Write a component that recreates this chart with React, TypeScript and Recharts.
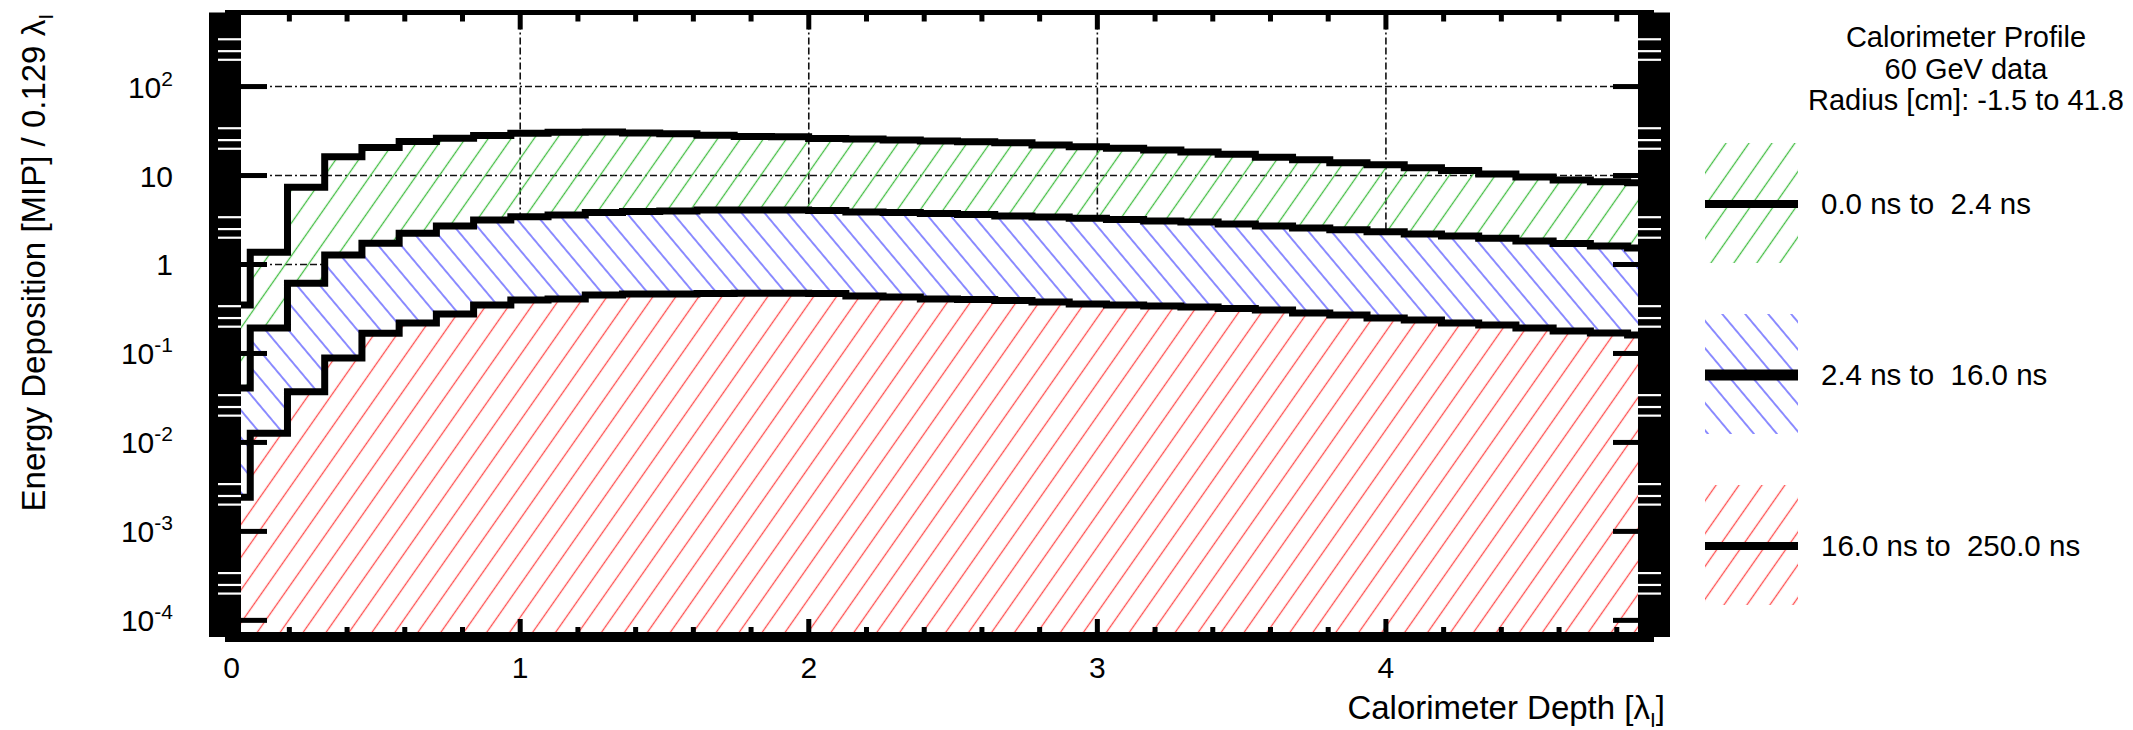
import React from 'react';
import { ComposedChart, Area, XAxis, YAxis, CartesianGrid, Legend, Label } from 'recharts';

// depth bins: 0.129 lambda_I wide, first bin centred on 0
const binWidth = 0.129;
const firstEdge = -0.0645;

// stacked energy profiles per bin as drawn (MIP), bins 0..38
const prompt = [
  0.35, 1.37, 7.4, 16.3, 20.6, 24.1, 26.3, 28.1, 29.9, 30.7,
  30.9, 30.1, 29.4, 28.3, 27.5, 27.2, 26.1, 25.8, 25.1, 24.5,
  23.9, 23.3, 22.1, 21.0, 20.2, 19.4, 18.4, 17.3, 16.0, 15.0,
  13.9, 13.2, 12.2, 11.4, 10.4, 9.6, 8.9, 8.5, 8.3,
];
const medium = [
  0.041, 0.193, 0.615, 1.28, 1.73, 2.25, 2.71, 3.16, 3.45, 3.6,
  3.83, 3.93, 4.0, 4.1, 4.1, 4.1, 4.05, 3.9, 3.83, 3.75,
  3.65, 3.51, 3.42, 3.31, 3.21, 3.08, 3.0, 2.86, 2.71, 2.58,
  2.45, 2.34, 2.2, 2.09, 1.97, 1.84, 1.72, 1.61, 1.53,
];
const late = [
  0.00242, 0.0127, 0.0371, 0.0887, 0.169, 0.22, 0.277, 0.35, 0.4, 0.41,
  0.454, 0.466, 0.466, 0.472, 0.474, 0.474, 0.472, 0.443, 0.431, 0.409,
  0.404, 0.394, 0.379, 0.36, 0.35, 0.341, 0.333, 0.32, 0.308, 0.285,
  0.27, 0.25, 0.238, 0.22, 0.209, 0.193, 0.179, 0.17, 0.161,
];

const legendLabels = ['0.0 ns to  2.4 ns', '2.4 ns to  16.0 ns', '16.0 ns to  250.0 ns'];
const headerLines = ['Calorimeter Profile', '60 GeV data', 'Radius [cm]: -1.5 to 41.8'];

const xMajorTicks = [0, 1, 2, 3, 4];
const yMajorTicks = [1e-4, 1e-3, 1e-2, 1e-1, 1, 10, 100];
const yGridTicks = [1, 10, 100];
const yNotchFactors = [2, 2.5, 3.4];

const xDomain = [-0.023, 4.929];
const yDomain = [6.5e-5, 680];

const W = 2133;
const H = 730;
const FONT = '"Liberation Sans", Arial, Helvetica, sans-serif';

// one row per bin low edge, plus a closing row at the last upper edge
const rows = prompt.map((_, i) => ({
  depth: firstEdge + i * binWidth,
  prompt: prompt[i],
  medium: medium[i],
  late: late[i],
}));
rows.push({
  depth: firstEdge + prompt.length * binWidth,
  prompt: prompt[prompt.length - 1],
  medium: medium[medium.length - 1],
  late: late[late.length - 1],
});

const xTicks: number[] = [];
for (let i = 0; i <= 24; i++) xTicks.push(Math.round(i * 2) / 10);

const yTicks: number[] = [];
yMajorTicks.forEach((d) => {
  yTicks.push(d);
  yNotchFactors.forEach((f) => {
    const v = d * f;
    if (v < yDomain[1]) yTicks.push(v);
  });
});

const isDecade = (v: number) => Math.abs(Math.log10(v) - Math.round(Math.log10(v))) < 1e-6;
const isInt = (v: number) => Math.abs(v - Math.round(v)) < 1e-6;

function LeftTick({ x, y, payload }: any) {
  const v = payload.value;
  if (!isDecade(v)) {
    return <line x1={x - 7} x2={x + 16} y1={y} y2={y} stroke="#fff" strokeWidth={2.2} />;
  }
  const e = Math.round(Math.log10(v));
  return (
    <g>
      <rect x={x + 14} y={y - 2.5} width={28} height={5} fill="#000" />
      <text x={x - 52} y={y + 11} textAnchor="end" fontSize={30} fontFamily={FONT} fill="#000">
        {e === 0 ? '1' : e === 1 ? '10' : (
          <>
            10<tspan fontSize={21} dy={-12}>{String(e)}</tspan>
          </>
        )}
      </text>
    </g>
  );
}

function RightTick({ x, y, payload }: any) {
  const v = payload.value;
  if (!isDecade(v)) {
    return <line x1={x - 16} x2={x + 7} y1={y} y2={y} stroke="#fff" strokeWidth={2.2} />;
  }
  return <rect x={x - 41} y={y - 2.5} width={27} height={5} fill="#000" />;
}

function BottomTick({ x, y, payload }: any) {
  const v = payload.value;
  const major = isInt(v);
  return (
    <g>
      <rect x={x - 2.5} y={major ? y - 18 : y - 10} width={5} height={major ? 14 : 6} fill="#000" />
      {major && (
        <text x={x} y={y + 41} textAnchor="middle" fontSize={30} fontFamily={FONT} fill="#000">
          {Math.round(v)}
        </text>
      )}
    </g>
  );
}

function TopTick({ x, y, payload }: any) {
  const major = isInt(payload.value);
  return <rect x={x - 2.5} y={y + 1} width={5} height={major ? 16 : 8} fill="#000" />;
}

function XTitle({ viewBox }: any) {
  const { x, y, width } = viewBox;
  return (
    <text x={x + width + 11} y={y + 82} textAnchor="end" fontSize={33} fontFamily={FONT} fill="#000">
      Calorimeter Depth [λ<tspan fontSize={21} dy={8}>I</tspan>
      <tspan dy={-8}>]</tspan>
    </text>
  );
}

function YTitle({ viewBox }: any) {
  const { x, y } = viewBox;
  return (
    <text
      transform={`translate(${x + 45},${y + 1.5}) rotate(-90)`}
      textAnchor="end"
      fontSize={33}
      fontFamily={FONT}
      fill="#000"
    >
      Energy Deposition [MIP] / 0.129 λ<tspan fontSize={21} dy={8}>I</tspan>
    </text>
  );
}

const hatchIds = ['hatchGreen', 'hatchBlue', 'hatchRed'];
const legendLineWidths = [8, 11, 8];

function LegendPanel() {
  return (
    <svg width={433} height={730} style={{ display: 'block' }}>
      {headerLines.map((t, i) => (
        <text key={t} x={266} y={47 + i * 31.5} textAnchor="middle" fontSize={29} fontFamily={FONT} fill="#000">
          {t}
        </text>
      ))}
      {legendLabels.map((t, i) => {
        const top = 143 + i * 171;
        const mid = top + 61;
        return (
          <g key={t}>
            <rect x={5} y={top} width={93} height={120} fill={`url(#${hatchIds[i]})`} />
            <line x1={5} x2={98} y1={mid} y2={mid} stroke="#000" strokeWidth={legendLineWidths[i]} />
            <text x={121} y={mid + 10} fontSize={29.5} fontFamily={FONT} fill="#000" xmlSpace="preserve" style={{ whiteSpace: 'pre' }}>
              {t}
            </text>
          </g>
        );
      })}
    </svg>
  );
}

export default function App() {
  return (
    <div style={{ position: 'fixed', left: 0, top: 0, width: W, height: H, background: '#fff' }}>
      <ComposedChart width={W} height={H} data={rows} margin={{ top: 0, right: 0, bottom: 0, left: 0 }}>
        <defs>
          <pattern id="hatchGreen" patternUnits="userSpaceOnUse" width={18.8} height={20} patternTransform="rotate(35)">
            <line x1={9.4} y1={0} x2={9.4} y2={20} stroke="#44be44" strokeWidth={1.3} />
          </pattern>
          <pattern id="hatchBlue" patternUnits="userSpaceOnUse" width={17.6} height={20} patternTransform="rotate(-40)">
            <rect width={17.6} height={20} fill="#fff" />
            <line x1={8.8} y1={0} x2={8.8} y2={20} stroke="#4f4fff" strokeWidth={1.3} />
          </pattern>
          <pattern id="hatchRed" patternUnits="userSpaceOnUse" width={18.8} height={20} patternTransform="rotate(35)">
            <rect width={18.8} height={20} fill="#fff" />
            <line x1={9.4} y1={0} x2={9.4} y2={20} stroke="#ff5050" strokeWidth={1.3} />
          </pattern>
        </defs>

        <CartesianGrid
          xAxisId="b"
          yAxisId="l"
          verticalValues={xMajorTicks.slice(1)}
          horizontalValues={yGridTicks}
          stroke="#111"
          strokeWidth={1.6}
          strokeDasharray="7 3 7 3 2 3"
        />

        <Area
          xAxisId="b"
          yAxisId="l"
          dataKey="prompt"
          type="stepAfter"
          baseValue="dataMin"
          stroke="#000"
          strokeWidth={7}
          fill="url(#hatchGreen)"
          fillOpacity={1}
          dot={false}
          activeDot={false}
          isAnimationActive={false}
        />
        <Area
          xAxisId="b"
          yAxisId="l"
          dataKey="medium"
          type="stepAfter"
          baseValue="dataMin"
          stroke="#000"
          strokeWidth={7}
          fill="url(#hatchBlue)"
          fillOpacity={1}
          dot={false}
          activeDot={false}
          isAnimationActive={false}
        />
        <Area
          xAxisId="b"
          yAxisId="l"
          dataKey="late"
          type="stepAfter"
          baseValue="dataMin"
          stroke="#000"
          strokeWidth={7}
          fill="url(#hatchRed)"
          fillOpacity={1}
          dot={false}
          activeDot={false}
          isAnimationActive={false}
        />

        <XAxis
          xAxisId="b"
          dataKey="depth"
          type="number"
          domain={xDomain}
          allowDataOverflow
          ticks={xTicks}
          interval={0}
          height={93}
          tickSize={0}
          tickMargin={0}
          tickLine={false}
          axisLine={{ stroke: '#000', strokeWidth: 10 }}
          tick={BottomTick}
        >
          <Label content={XTitle} />
        </XAxis>
        <XAxis
          xAxisId="t"
          orientation="top"
          dataKey="depth"
          type="number"
          domain={xDomain}
          allowDataOverflow
          ticks={xTicks}
          interval={0}
          height={12.5}
          tickSize={0}
          tickMargin={0}
          tickLine={false}
          axisLine={{ stroke: '#000', strokeWidth: 5 }}
          tick={TopTick}
        />
        <YAxis
          yAxisId="l"
          scale="log"
          type="number"
          domain={yDomain}
          allowDataOverflow
          ticks={yTicks}
          interval={0}
          width={225}
          tickSize={0}
          tickMargin={0}
          tickLine={false}
          axisLine={{ stroke: '#000', strokeWidth: 32 }}
          tick={LeftTick}
        >
          <Label content={YTitle} />
        </YAxis>
        <YAxis
          yAxisId="r"
          orientation="right"
          scale="log"
          type="number"
          domain={yDomain}
          allowDataOverflow
          ticks={yTicks}
          interval={0}
          width={479}
          tickSize={0}
          tickMargin={0}
          tickLine={false}
          axisLine={{ stroke: '#000', strokeWidth: 32 }}
          tick={RightTick}
        />

        <Legend
          layout="vertical"
          align="center"
          verticalAlign="middle"
          content={() => <LegendPanel />}
          wrapperStyle={{ left: 1700, top: 0, width: 433, height: 730 }}
        />
      </ComposedChart>
    </div>
  );
}
